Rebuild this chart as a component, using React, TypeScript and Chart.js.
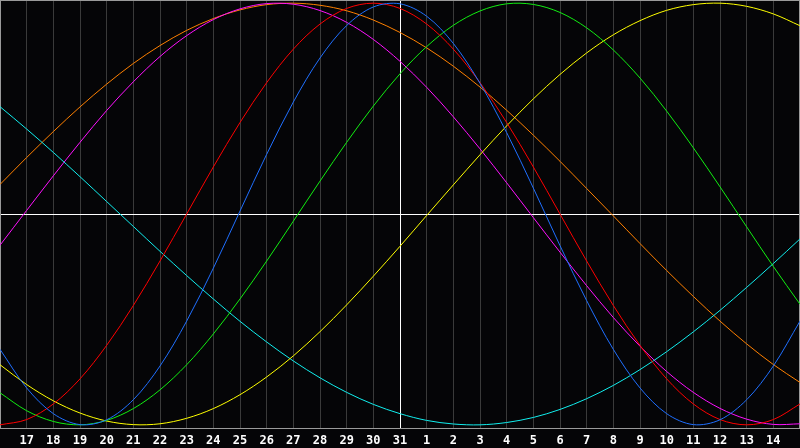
import { useEffect, useRef } from 'react';
import { Chart, registerables } from 'chart.js';

Chart.register(...registerables);

// Day labels: 16 (left edge) ... 31 | 1 ... 15 (right edge)
const DAYS = ['16','17','18','19','20','21','22','23','24','25','26','27','28','29','30','31',
  '1','2','3','4','5','6','7','8','9','10','11','12','13','14','15'];
const TODAY_INDEX = 15; // the "31" line

const PHYSICAL = [-0.642,-0.825,-0.947,-0.999,-0.976,-0.881,-0.721,-0.508,-0.257,0.014,0.283,0.531,0.740,0.894,0.982,0.997,0.938,0.809,0.620,0.386,0.123,-0.150,-0.411,-0.642,-0.825,-0.947,-0.999,-0.976,-0.881,-0.721,-0.508];
const EMOTIONAL = [-1.000,-0.975,-0.901,-0.782,-0.623,-0.434,-0.223,0.000,0.223,0.434,0.623,0.782,0.901,0.975,1.000,0.975,0.901,0.782,0.623,0.434,0.223,0.000,-0.223,-0.434,-0.623,-0.782,-0.901,-0.975,-1.000,-0.975,-0.901];
const INTELLECTUAL = [-0.848,-0.933,-0.984,-1.000,-0.979,-0.923,-0.834,-0.715,-0.569,-0.403,-0.223,-0.034,0.156,0.340,0.512,0.665,0.794,0.895,0.963,0.997,0.994,0.956,0.883,0.778,0.645,0.488,0.314,0.129,-0.061,-0.249,-0.428];
const INTUITIVE = [-0.148,0.017,0.181,0.340,0.491,0.627,0.747,0.846,0.922,0.973,0.998,0.995,0.965,0.909,0.828,0.724,0.601,0.461,0.309,0.148,-0.017,-0.181,-0.340,-0.491,-0.627,-0.747,-0.846,-0.922,-0.973,-0.998,-0.995];
const AESTHETIC = [-0.715,-0.809,-0.886,-0.944,-0.982,-0.999,-0.995,-0.969,-0.923,-0.857,-0.773,-0.673,-0.558,-0.431,-0.295,-0.153,-0.007,0.138,0.281,0.418,0.546,0.662,0.764,0.850,0.917,0.966,0.993,1.000,0.985,0.949,0.893];
const AWARENESS = [0.140,0.268,0.391,0.508,0.616,0.714,0.799,0.871,0.927,0.968,0.993,1.000,0.990,0.964,0.920,0.861,0.788,0.701,0.602,0.492,0.374,0.250,0.121,-0.009,-0.140,-0.268,-0.391,-0.508,-0.616,-0.714,-0.799];
const SPIRITUAL = [0.509,0.403,0.292,0.177,0.059,-0.059,-0.177,-0.292,-0.403,-0.509,-0.607,-0.697,-0.777,-0.846,-0.903,-0.947,-0.979,-0.996,-1.000,-0.989,-0.965,-0.927,-0.876,-0.813,-0.738,-0.653,-0.559,-0.457,-0.348,-0.235,-0.118];

const SERIES = [
  { name: 'Physical', data: PHYSICAL, color: '#1f6fff' },
  { name: 'Emotional', data: EMOTIONAL, color: '#ff0000' },
  { name: 'Intellectual', data: INTELLECTUAL, color: '#11ee11' },
  { name: 'Aesthetic', data: AESTHETIC, color: '#ffff00' },
  { name: 'Spiritual', data: SPIRITUAL, color: '#11eeee' },
  { name: 'Intuitive', data: INTUITIVE, color: '#ff11ff' },
  { name: 'Awareness', data: AWARENESS, color: '#ff8000' },
];

const framePlugin = {
  id: 'bioFrame',
  beforeDraw(chart: any) {
    const ctx = chart.ctx;
    ctx.save();
    ctx.fillStyle = '#050507';
    ctx.fillRect(0, 0, chart.width, chart.height);
    ctx.restore();
  },
  beforeDatasetsDraw(chart: any) {
    const { ctx, chartArea, scales } = chart;
    const { left, top, right, bottom } = chartArea;
    const x = scales.x;
    const y = scales.y;
    ctx.save();
    ctx.lineWidth = 1;
    // vertical day grid
    ctx.strokeStyle = '#3a3a3a';
    for (let i = 1; i < DAYS.length - 1; i++) {
      if (i === TODAY_INDEX) continue;
      const px = Math.floor(x.getPixelForValue(i)) + 0.5;
      ctx.beginPath();
      ctx.moveTo(px, top);
      ctx.lineTo(px, bottom);
      ctx.stroke();
    }
    // frame
    ctx.strokeStyle = '#9a9a9a';
    ctx.strokeRect(left + 0.5, top + 0.5, right - left - 1, bottom - top);
    // zero line
    ctx.strokeStyle = '#ffffff';
    const zy = Math.floor(y.getPixelForValue(0)) + 0.5;
    ctx.beginPath();
    ctx.moveTo(left + 1, zy);
    ctx.lineTo(right - 1, zy);
    ctx.stroke();
    // today line
    const tx = Math.floor(x.getPixelForValue(TODAY_INDEX)) + 0.5;
    ctx.beginPath();
    ctx.moveTo(tx, top + 1);
    ctx.lineTo(tx, bottom);
    ctx.stroke();
    ctx.restore();
  },
  afterDraw(chart: any) {
    const { ctx, chartArea, scales } = chart;
    const x = scales.x;
    ctx.save();
    ctx.fillStyle = '#ffffff';
    ctx.font = 'bold 12px "DejaVu Sans Mono", monospace';
    ctx.textAlign = 'center';
    ctx.textBaseline = 'alphabetic';
    for (let i = 1; i < DAYS.length - 1; i++) {
      ctx.fillText(DAYS[i], x.getPixelForValue(i), chartArea.bottom + 15.5);
    }
    ctx.restore();
  },
};

export default function App() {
  const canvasRef = useRef<HTMLCanvasElement | null>(null);

  useEffect(() => {
    const canvas = canvasRef.current;
    if (!canvas) return;
    const chart = new Chart(canvas, {
      type: 'line',
      data: {
        labels: DAYS,
        datasets: SERIES.map((s) => ({
          label: s.name,
          data: s.data,
          borderColor: s.color,
          backgroundColor: s.color,
          borderWidth: 1,
          pointRadius: 0,
          pointHoverRadius: 0,
          tension: 0.33,
          fill: false,
        })),
      },
      options: {
        responsive: false,
        maintainAspectRatio: false,
        devicePixelRatio: 1,
        animation: false,
        layout: { padding: { left: 0, right: 0, top: 0, bottom: 20 } },
        plugins: {
          legend: { display: false },
          tooltip: { enabled: false },
        },
        scales: {
          x: { type: 'category', display: false, offset: false },
          y: { type: 'linear', display: false, min: -1.015, max: 1.015 },
        },
      },
      plugins: [framePlugin],
    });
    return () => chart.destroy();
  }, []);

  return (
    <div style={{ position: 'absolute', left: 0, top: 0, width: 800, height: 448, background: '#050507' }}>
      <canvas ref={canvasRef} width={800} height={448} style={{ display: 'block', width: 800, height: 448 }} />
    </div>
  );
}
